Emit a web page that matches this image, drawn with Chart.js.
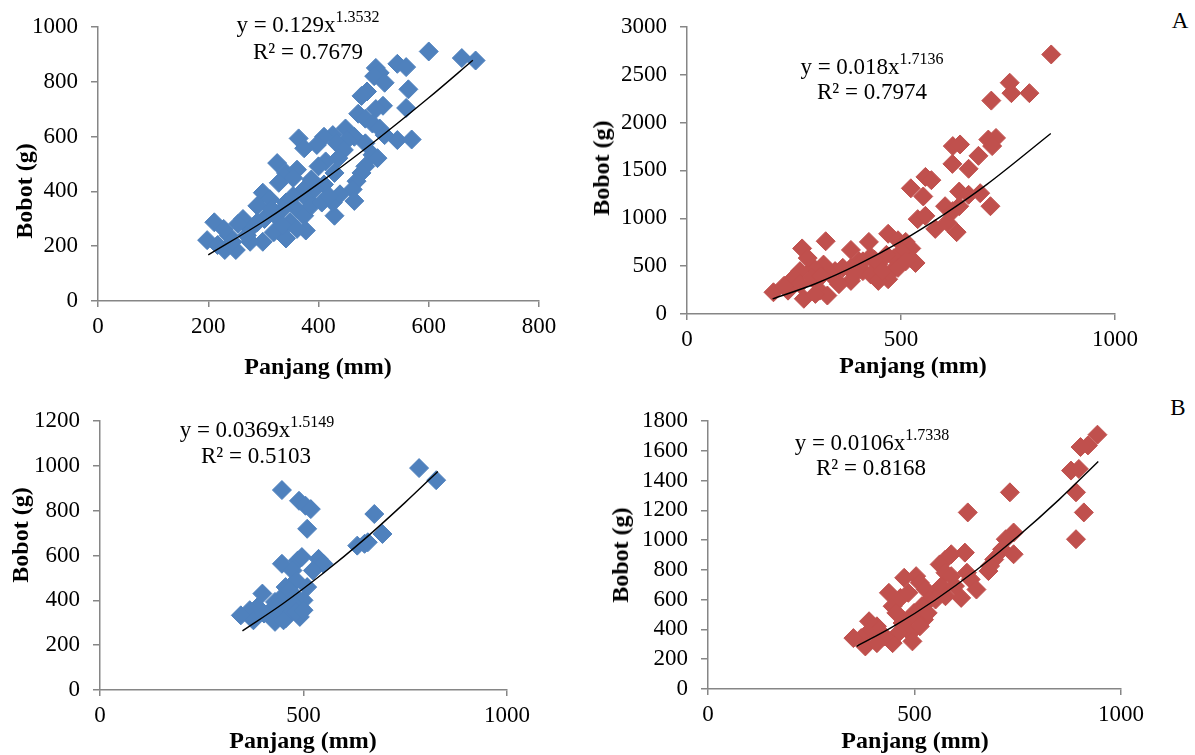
<!DOCTYPE html>
<html>
<head>
<meta charset="utf-8">
<script src="https://cdn.jsdelivr.net/npm/chart.js@4.4.1/dist/chart.umd.min.js"></script>
<style>
  html, body { margin: 0; padding: 0; background: #fff; }
  body { width: 1195px; height: 755px; position: relative; overflow: hidden; font-family: "Liberation Serif", "Times New Roman", serif; }
  canvas { position: absolute; }
  .txt { position: absolute; white-space: nowrap; transform: translate(-50%, -50%); color: #000; line-height: 1; }
  .eq { font-size: 23px; }
  .eq sup { font-size: 16px; vertical-align: baseline; position: relative; top: -0.6em; }
  .ttl { font-size: 24px; font-weight: bold; }
  .rot { transform: translate(-50%, -50%) rotate(-90deg); }
  .panel { font-size: 23px; }
</style>
</head>
<body>
<canvas id="c1" width="580" height="385" style="left:0;top:0"></canvas>
<canvas id="c2" width="560" height="385" style="left:590px;top:0"></canvas>
<canvas id="c3" width="580" height="370" style="left:0;top:385px"></canvas>
<canvas id="c4" width="560" height="370" style="left:590px;top:385px"></canvas>

<div class="txt eq" style="left:308px;top:24px">y = 0.129x<sup>1.3532</sup></div>
<div class="txt eq" style="left:308px;top:51px">R² = 0.7679</div>
<div class="txt eq" style="left:872px;top:66px">y = 0.018x<sup>1.7136</sup></div>
<div class="txt eq" style="left:872px;top:91px">R² = 0.7974</div>
<div class="txt eq" style="left:257px;top:429px">y = 0.0369x<sup>1.5149</sup></div>
<div class="txt eq" style="left:256px;top:455px">R² = 0.5103</div>
<div class="txt eq" style="left:872px;top:442px">y = 0.0106x<sup>1.7338</sup></div>
<div class="txt eq" style="left:871px;top:467px">R² = 0.8168</div>

<div class="txt ttl rot" style="left:24px;top:191px">Bobot (g)</div>
<div class="txt ttl rot" style="left:601px;top:168px">Bobot (g)</div>
<div class="txt ttl rot" style="left:20px;top:535px">Bobot (g)</div>
<div class="txt ttl rot" style="left:620px;top:555px">Bobot (g)</div>
<div class="txt ttl" style="left:318px;top:366px">Panjang (mm)</div>
<div class="txt ttl" style="left:913px;top:365px">Panjang (mm)</div>
<div class="txt ttl" style="left:303px;top:740px">Panjang (mm)</div>
<div class="txt ttl" style="left:915px;top:740px">Panjang (mm)</div>

<div class="txt panel" style="left:1180px;top:20px">A</div>
<div class="txt panel" style="left:1178px;top:407px">B</div>

<script>
// panel 1 (atas kiri, biru)
const panjang1 = [600,660,685,543,559,504,511,501,520,563,488,478,517,504,559,472,485,498,511,449,543,569,520,465,452,426,410,397,364,374,433,485,446,498,507,485,478,469,462,465,429,426,439,410,429,413,436,400,393,380,325,341,361,354,328,299,312,289,341,361,374,377,348,341,319,299,276,263,254,237,211,198,217,230,250,228,276,302,322,335,374,387,354,315,289,335,361,244,270,387,406,419];
const bobot1   = [910,886,877,865,853,850,832,820,796,772,764,748,712,700,704,683,665,647,629,629,587,589,605,599,587,605,599,569,593,557,575,575,551,533,521,491,467,437,407,365,311,359,389,425,467,509,521,491,407,371,503,467,479,449,431,395,371,347,359,335,311,257,287,228,251,216,263,299,281,239,287,222,204,186,186,263,216,299,311,335,407,443,383,335,287,275,263,216,239,347,359,383];
const trendX1 = [200,300,400,500,600,680];
const trendY1 = [168,290,428,579,741,878];

// panel 2 (atas kanan, merah)
const panjang2 = [851,754,758,800,711,722,704,713,621,638,681,620,658,557,571,523,552,636,658,685,709,603,621,636,539,557,608,580,630,470,493,511,524,502,484,534,466,447,470,479,429,425,383,402,383,383,411,346,350,324,319,296,300,269,282,264,250,264,310,328,273,236,202,227,300,355,392,429,447,456,493,511,337,291,314,364,411,438];
const bobot2   = [2711,2416,2307,2307,2229,1839,1822,1754,1754,1771,1652,1568,1517,1432,1398,1313,1228,1279,1245,1262,1126,1126,1075,1126,991,1025,957,889,855,838,770,753,685,652,584,533,618,516,363,448,601,753,669,550,482,346,448,448,346,760,516,482,346,685,584,448,380,312,244,193,159,244,227,295,210,312,414,414,346,448,482,550,414,380,397,482,550,567];
const trendX2 = [200,300,400,500,600,700,850];
const trendY2 = [158,316,518,759,1038,1351,1885];

// panel 3 (bawah kiri, biru)
const panjang3 = [784,826,447,489,505,518,509,674,694,632,650,658,447,486,496,537,549,523,473,456,482,509,473,447,430,399,387,368,346,377,412,430,456,491,491,465,500,421,438,473,403,451,482,500,465];
const bobot3   = [990,936,892,844,822,807,719,785,696,644,652,659,563,578,593,585,563,533,533,459,489,459,430,415,393,430,370,356,333,311,341,304,319,326,370,356,400,356,370,385,341,311,348,356,444];
const trendX3 = [350,450,550,650,750,830];
const trendY3 = [264,386,523,673,837,975];

// panel 4 (bawah kanan, merah)
const panjang4 = [943,920,902,879,898,891,910,891,731,629,740,721,712,740,693,679,627,636,650,613,622,589,575,561,575,589,565,575,546,504,475,513,527,537,518,523,499,485,490,495,461,447,428,438,447,456,466,485,409,390,386,371,352,381,409,471,513,532,551,598,683];
const bobot4   = [1708,1636,1625,1467,1478,1321,1186,1006,1321,1186,1051,1006,938,905,870,792,781,736,668,612,916,905,870,837,781,758,691,623,635,758,747,713,668,601,556,466,511,466,376,320,376,308,353,646,556,511,612,646,421,455,376,342,342,286,308,443,421,511,601,691,826];
const trendX4 = [360,450,550,650,750,850,945];
const trendY4 = [287,422,598,799,1024,1272,1528];

const biru = '#4F81BD';
const merah = '#C0504D';
const abu = '#868686';
const fontTick = { family: "'Liberation Serif', 'Times New Roman', serif", size: 23 };

function pts(xs, ys) {
  return xs.map((x, i) => ({ x: x, y: ys[i] }));
}

function buatChart(id, xs, ys, tx, ty, warna, xMax, xStep, yMax, yStep, kiri, atas, kanan, bawah) {
  const ctx = document.getElementById(id).getContext('2d');
  return new Chart(ctx, {
    type: 'scatter',
    data: {
      datasets: [
        {
          type: 'line',
          data: pts(tx, ty),
          borderColor: '#000',
          borderWidth: 1.4,
          pointRadius: 0,
          cubicInterpolationMode: 'monotone',
          fill: false
        },
        {
          data: pts(xs, ys),
          pointStyle: 'rectRot',
          pointRadius: 9.5,
          backgroundColor: warna,
          borderColor: warna,
          borderWidth: 1
        }
      ]
    },
    options: {
      responsive: false,
      animation: false,
      devicePixelRatio: 1,
      layout: { padding: { left: 0, top: atas, right: kanan, bottom: 0 } },
      plugins: { legend: { display: false }, tooltip: { enabled: false } },
      scales: {
        x: {
          type: 'linear',
          min: 0, max: xMax,
          ticks: { stepSize: xStep, color: '#000', font: fontTick, padding: 6, maxRotation: 0, autoSkip: false, callback: (v) => String(v) },
          grid: { drawOnChartArea: false, drawTicks: true, tickLength: 6, color: abu, lineWidth: 1.5 },
          border: { color: abu, width: 1.5 },
          afterFit: (s) => { s.height = bawah; }
        },
        y: {
          type: 'linear',
          min: 0, max: yMax,
          ticks: { stepSize: yStep, color: '#000', font: fontTick, padding: 13, autoSkip: false, callback: (v) => String(v) },
          grid: { drawOnChartArea: false, drawTicks: true, tickLength: 7, color: abu, lineWidth: 1.5 },
          border: { color: abu, width: 1.5 },
          afterFit: (s) => { s.width = kiri; }
        }
      }
    }
  });
}

buatChart('c1', panjang1, bobot1, trendX1, trendY1, biru, 800, 200, 1000, 200, 98, 22, 41, 84);
buatChart('c2', panjang2, bobot2, trendX2, trendY2, merah, 1000, 500, 3000, 500, 97, 20, 35, 71);
buatChart('c3', panjang3, bobot3, trendX3, trendY3, biru, 1000, 500, 1200, 200, 100, 36, 73, 65);
buatChart('c4', panjang4, bobot4, trendX4, trendY4, merah, 1000, 500, 1800, 200, 118, 36, 27, 66);
</script>
</body>
</html>
